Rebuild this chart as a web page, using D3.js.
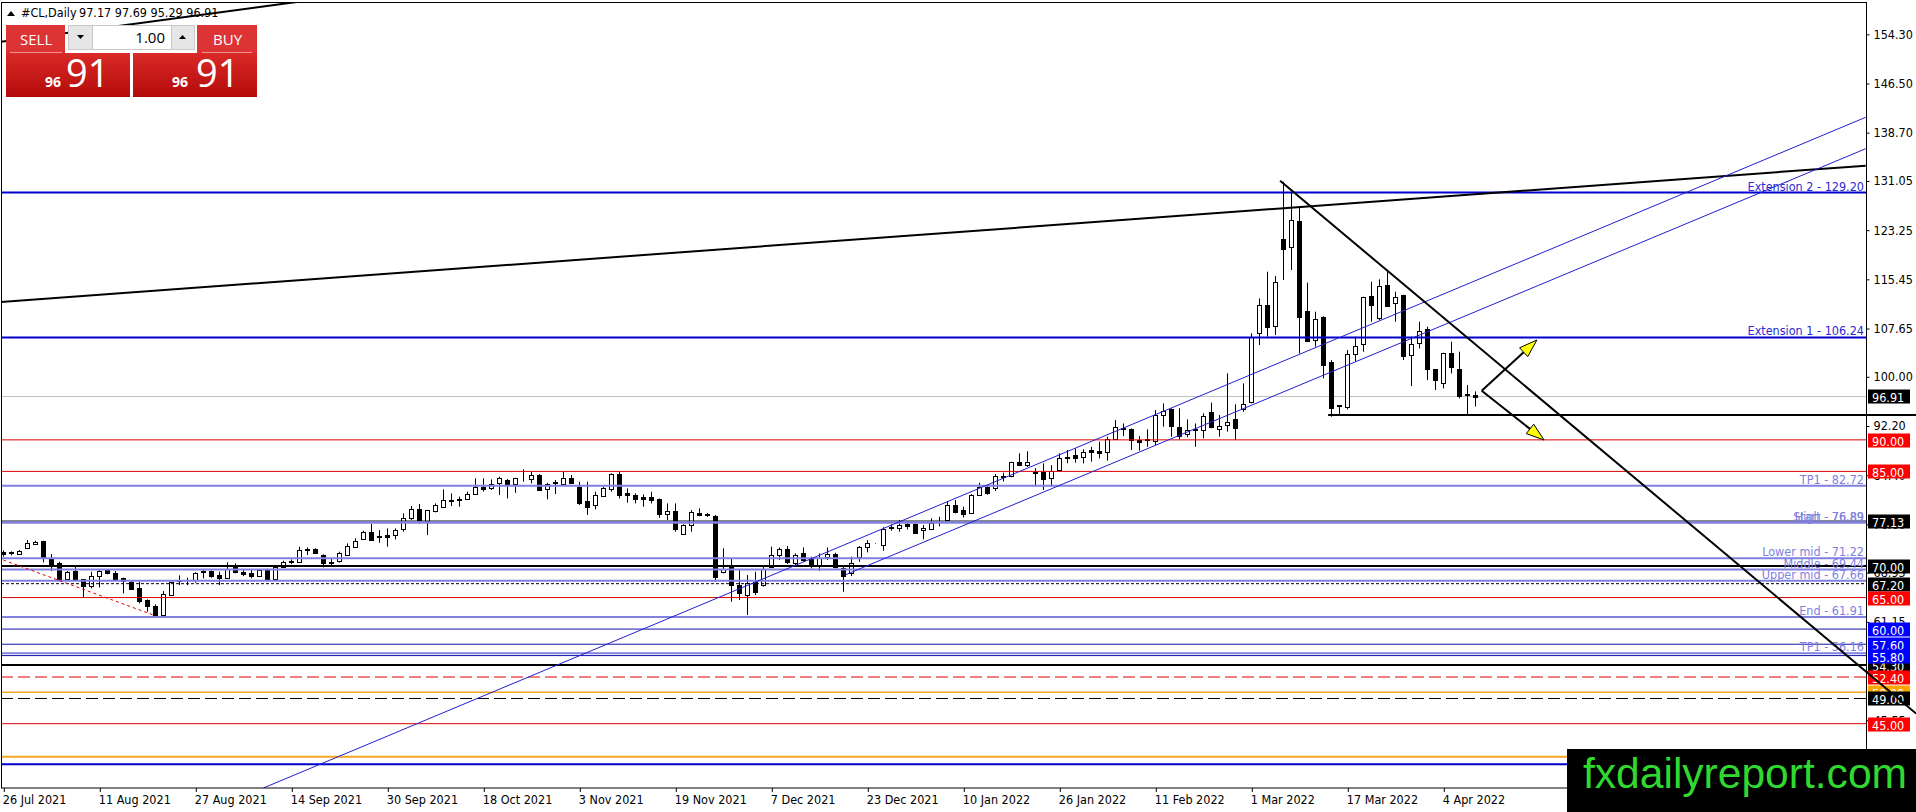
<!DOCTYPE html>
<html lang="en">
<head>
<meta charset="UTF-8">
<title>#CL,Daily</title>
<script src="https://d3js.org/d3.v7.min.js"></script>
<style>
  html, body { margin: 0; padding: 0; background: #fff; overflow: hidden; }
  svg { display: block; }
  .ax text { font: 12.5px Tahoma, "DejaVu Sans Condensed", "Liberation Sans", sans-serif; fill: #000; }
  .ax line { stroke: #000; }
  .tag text { font: 12.5px Tahoma, "DejaVu Sans Condensed", "Liberation Sans", sans-serif; fill: #fff; }
  .fib { font: 12.5px Tahoma, "DejaVu Sans Condensed", "Liberation Sans", sans-serif; }
  .panel text { font-family: "Open Sans", "Liberation Sans", Arial, sans-serif; }
</style>
</head>
<body>
<svg id="chart" width="1916" height="812"></svg>
<script>
// daily bars, 26 Jul 2021 .. 8 Apr 2022
const opens = [72.27,72.16,71.90,72.80,73.54,73.96,71.32,70.42,67.93,69.20,67.88,66.83,68.46,69.31,68.94,68.04,67.51,66.45,64.60,63.71,
  62.12,65.40,67.83,67.78,67.67,69.25,69.20,68.57,68.04,69.78,69.10,68.94,68.41,69.47,67.88,69.89,70.58,70.68,72.64,72.69,
  71.74,70.55,70.69,71.85,73.06,74.39,75.44,74.70,74.90,74.90,75.81,77.56,79.04,77.20,78.77,79.41,80.50,80.50,80.57,81.52,
  82.58,82.31,83.10,83.63,82.95,83.80,83.74,84.42,82.15,83.20,82.95,83.90,82.58,80.30,79.67,81.10,82.15,84.58,81.50,81.26,
  81.00,80.99,80.62,78.24,78.77,75.07,76.50,78.45,78.20,77.92,69.09,69.90,66.98,65.40,67.51,66.90,69.89,71.73,72.63,70.52,
  72.00,71.20,70.15,71.37,71.90,69.62,68.83,71.47,72.95,73.60,73.32,76.10,75.97,76.66,76.66,75.70,75.97,77.00,77.29,79.67,
  78.87,78.35,81.25,82.60,82.30,84.20,84.27,86.54,86.00,84.90,84.95,84.05,85.11,87.15,87.60,87.33,88.40,88.28,87.96,90.08,
  91.75,91.66,90.00,89.90,89.87,93.94,94.84,92.09,90.92,91.60,91.66,94.47,91.66,92.40,93.30,94.83,96.05,106.90,111.37,107.94,
  121.84,120.62,124.75,110.42,105.83,109.53,102.39,95.35,95.15,103.60,105.19,112.80,109.26,114.55,111.80,112.96,103.45,105.40,107.52,101.17,
  98.96,103.71,101.17,97.10,97.17];
const highs = [72.48,72.32,72.53,74.12,74.01,74.00,71.90,70.68,69.20,69.90,67.93,69.10,69.36,69.42,69.20,68.15,67.78,67.51,64.71,63.92,
  66.03,67.51,68.52,68.15,68.99,69.36,69.31,69.10,70.58,70.42,69.36,69.36,69.47,69.57,69.89,70.84,71.05,73.06,72.95,72.80,
  71.85,71.10,72.27,73.59,74.39,75.60,76.66,75.70,75.97,75.97,78.35,79.51,79.83,78.90,79.93,82.15,81.50,81.00,81.78,83.90,
  83.90,83.74,84.16,83.80,84.00,85.32,84.95,84.58,83.20,83.63,84.95,84.42,83.37,83.37,81.78,82.58,84.69,84.95,82.31,81.52,
  81.36,81.78,80.70,79.93,79.93,76.60,78.87,79.14,78.40,78.10,72.80,71.20,69.36,68.57,69.10,69.89,73.06,72.95,73.16,72.00,
  72.95,71.47,72.00,72.95,72.10,70.15,71.47,73.16,74.10,73.65,76.13,76.60,77.30,77.03,76.76,76.50,77.56,77.80,80.30,80.46,
  79.40,81.41,83.20,82.90,84.58,84.80,86.54,87.86,88.20,85.50,86.27,86.00,87.86,88.40,88.65,88.50,88.90,89.70,90.50,93.14,
  92.60,91.80,90.60,91.66,94.73,95.79,95.00,95.00,93.25,92.60,94.20,95.90,93.94,100.54,95.63,98.96,106.90,112.43,116.66,115.97,
  130.93,129.34,126.97,114.92,110.32,109.60,102.65,95.50,104.24,106.36,112.70,115.07,115.45,116.66,113.50,113.00,106.36,108.73,107.94,101.20,
  103.82,105.56,103.98,98.69,97.69];
const lows = [71.48,71.69,71.79,72.69,73.33,70.58,69.20,67.85,67.88,67.67,65.03,66.45,66.61,68.67,67.83,65.66,66.19,64.08,62.76,62.07,
  62.07,65.24,66.98,66.98,67.35,68.04,68.15,66.98,67.93,68.83,68.41,68.04,68.30,67.78,67.78,69.78,70.31,70.52,71.74,71.90,
  69.78,69.90,70.53,71.70,72.90,74.30,74.10,73.70,73.06,74.20,75.44,77.30,76.76,74.90,78.50,79.30,79.50,79.40,80.46,81.41,
  81.80,82.05,81.26,80.72,81.60,83.37,83.10,82.00,80.57,81.41,82.90,83.00,79.67,78.10,78.98,81.00,81.78,80.72,80.04,79.93,
  79.40,79.93,77.66,77.29,75.44,75.00,75.44,77.90,77.80,67.50,68.83,64.34,64.60,62.22,65.40,66.72,69.78,70.94,70.31,69.99,
  70.68,69.62,69.25,70.94,69.62,65.92,68.41,70.68,72.16,73.55,72.42,75.60,75.44,75.81,75.18,74.23,75.70,76.30,77.03,78.35,
  77.70,78.24,81.10,81.30,81.90,83.40,84.05,85.85,85.70,82.60,82.05,82.58,84.95,86.30,86.38,86.27,86.54,87.07,86.70,89.97,
  90.60,88.40,88.28,88.90,89.18,92.10,90.50,90.08,90.40,88.90,90.24,91.83,90.50,91.30,89.97,94.47,95.79,105.03,106.36,106.62,
  115.34,116.93,103.71,105.56,104.77,99.75,93.67,93.94,94.83,102.39,103.98,108.73,109.00,111.10,108.73,102.66,98.53,104.50,99.48,97.90,
  98.16,100.54,96.58,93.78,95.29];
const closes = [72.00,72.00,72.42,73.59,73.80,71.48,70.05,67.93,69.10,67.78,66.72,68.46,69.25,68.78,67.93,67.51,66.35,64.34,63.71,62.12,
  65.50,67.41,67.72,67.72,68.83,69.10,68.46,68.15,69.47,68.94,68.83,68.46,69.36,67.88,69.78,70.68,70.79,72.53,72.42,72.00,
  70.42,70.70,72.00,73.22,74.01,75.44,74.23,74.60,74.60,75.70,77.56,79.04,77.30,78.88,79.67,80.46,80.40,80.60,81.41,82.58,
  82.20,82.95,83.90,82.95,83.90,83.74,84.42,82.05,82.95,83.30,83.90,83.10,80.09,79.30,81.26,82.31,84.58,81.26,81.26,80.57,
  80.62,80.57,78.19,78.77,75.97,76.50,78.60,78.10,78.10,68.20,69.60,66.98,65.66,67.25,65.92,69.47,71.73,72.63,70.52,71.73,
  70.94,69.89,71.20,71.90,69.78,68.40,70.41,73.06,73.60,73.60,75.81,76.20,76.50,76.34,75.28,76.07,76.86,77.05,79.67,78.60,
  78.24,81.25,82.58,81.60,84.27,84.30,86.43,86.00,86.43,84.80,83.90,85.11,87.07,87.25,87.20,88.12,88.07,87.97,90.08,91.98,
  91.85,89.87,89.70,90.10,93.94,94.63,92.20,90.61,91.56,91.70,93.83,92.09,92.20,92.88,91.82,95.68,106.36,111.37,107.94,114.97,
  120.25,124.85,109.53,105.72,109.16,101.86,95.15,95.45,103.60,104.93,112.69,111.37,114.39,111.21,112.69,103.34,105.19,107.30,101.17,99.48,
  103.71,101.49,96.95,97.20,96.91];

// time axis: a label every 12 bars
const dateLabels = ["26 Jul 2021","11 Aug 2021","27 Aug 2021","14 Sep 2021","30 Sep 2021","18 Oct 2021","3 Nov 2021","19 Nov 2021",
  "7 Dec 2021","23 Dec 2021","10 Jan 2022","26 Jan 2022","11 Feb 2022","1 Mar 2022","17 Mar 2022","4 Apr 2022"];
const dateStep = 12;

// price scale ticks
const priceTicks = [154.30,146.50,138.70,131.05,123.25,115.45,107.65,100.00,92.20,84.40,76.60,68.95,61.15,53.35,45.55];

// horizontal levels
const levelPrices = [90.00,85.00,77.13,70.00,67.20,65.00,60.00,57.60,55.80,54.30,52.40,50.00,49.00,45.00,39.76,38.56];
const levelKinds  = ["red","red","blackThin","blackThick","blackDot","red","navy","navy","navy","blackThick","redDash","orange","blackDash","red","orangeThick","blueThick"];
const levelTagged = [true,true,true,true,true,true,true,true,true,true,true,true,true,true,false,false];

// fibonacci labels
const fibNames  = ["Extension 2","Extension 1","TP1","Start","High","Lower mid","Middle","Upper mid","End","TP1"];
const fibPrices = [129.20,106.24,82.72,76.89,76.89,71.22,69.44,67.66,61.91,56.16];
const fibKinds  = ["ext","ext","fib","fib","fib","fib","fib","fib","fib","fib"];

// trend lines: [bar1, price1, bar2, price2]
const trendLines = [
  [-0.41,153.10,38.30,159.70],
  [-0.41,111.85,232.80,133.47],
  [32.50,34.80,232.80,141.14],
  [105.20,68.57,232.80,136.16],
  [0,70.95,19,62.12]
];
const trendKinds = ["black","black","channel","channel","redDot"];
const downLine = [159.6,131.07,239.1,46.61];
const supportLine = [165.6,93.94,239.1,93.94];
const arrowLines = [[184.8,97.79,191.7,105.83],[184.8,97.79,192.6,89.97]];

const W = 1916, H = 812;
const plot = {left: 1, top: 2.5, right: 1866, bottom: 788};
const last = opens.length - 1;

const x = d3.scaleLinear().domain([0, 184]).range([3.3, 1475.3]);
const y = d3.scaleLinear().domain([45, 154.3]).range([723.7, 34.3]);

const svg = d3.select("#chart");
svg.append("rect").attr("width", W).attr("height", H).attr("fill", "#fff");

const defs = svg.append("defs");
defs.append("clipPath").attr("id", "plotClip").append("rect")
  .attr("x", plot.left).attr("y", plot.top)
  .attr("width", plot.right - plot.left).attr("height", plot.bottom - plot.top);
const grad = defs.append("linearGradient").attr("id", "redGrad").attr("x1", 0).attr("y1", 0).attr("x2", 0).attr("y2", 1);
grad.append("stop").attr("offset", "0%").attr("stop-color", "#d92a27");
grad.append("stop").attr("offset", "100%").attr("stop-color", "#b40b0b");

const g = svg.append("g").attr("clip-path", "url(#plotClip)");

// current price line
g.append("line").attr("x1", plot.left).attr("x2", plot.right)
  .attr("y1", Math.round(y(closes[last])) + 0.5).attr("y2", Math.round(y(closes[last])) + 0.5)
  .attr("stroke", "#c0c0c0");

// candles
const bars = d3.range(opens.length);
const cg = g.append("g");
cg.selectAll("line").data(bars).join("line")
  .attr("x1", i => Math.round(x(i)) + 0.5).attr("x2", i => Math.round(x(i)) + 0.5)
  .attr("y1", i => y(highs[i])).attr("y2", i => y(lows[i]))
  .attr("stroke", "#000");
cg.selectAll("rect").data(bars).join("rect")
  .attr("x", i => Math.round(x(i)) - 1.5)
  .attr("y", i => Math.round(y(Math.max(opens[i], closes[i]))) + 0.5)
  .attr("width", 4)
  .attr("height", i => Math.round(Math.abs(y(opens[i]) - y(closes[i]))))
  .attr("fill", i => closes[i] >= opens[i] ? "#fff" : "#000")
  .attr("stroke", "#000");

// level lines
const levelStyle = {
  red:        {stroke: "#e00000", width: 1, dash: null, tag: "#ff0000"},
  redDash:    {stroke: "#e00000", width: 1, dash: "12,5", tag: "#ff0000"},
  blackThin:  {stroke: "#000", width: 1, dash: null, tag: "#000"},
  blackThick: {stroke: "#000", width: 2, dash: null, tag: "#000"},
  blackDot:   {stroke: "#000", width: 1, dash: "3,2", tag: "#000"},
  blackDash:  {stroke: "#000", width: 1, dash: "12,5", tag: "#000"},
  navy:       {stroke: "#1414a8", width: 1, dash: null, tag: "#0000ff"},
  orange:     {stroke: "#f5a623", width: 1.5, dash: null, tag: "#ffa500"},
  orangeThick:{stroke: "#f5a623", width: 2, dash: null, tag: "#ffa500"},
  blueThick:  {stroke: "#0000cc", width: 2, dash: null, tag: "#0000ff"}
};
const fibStyle = {
  ext: {stroke: "#0000cc", text: "#2a2ad0"},
  fib: {stroke: "#8181e0", text: "#7f7fe0"}
};

g.append("g").selectAll("line").data(d3.range(levelPrices.length)).join("line")
  .attr("x1", plot.left).attr("x2", plot.right)
  .attr("y1", k => y(levelPrices[k])).attr("y2", k => y(levelPrices[k]))
  .attr("stroke", k => levelStyle[levelKinds[k]].stroke)
  .attr("stroke-width", k => levelStyle[levelKinds[k]].width)
  .attr("stroke-dasharray", k => levelStyle[levelKinds[k]].dash);

g.append("g").selectAll("line").data(d3.range(fibPrices.length)).join("line")
  .attr("x1", plot.left).attr("x2", plot.right)
  .attr("y1", k => y(fibPrices[k])).attr("y2", k => y(fibPrices[k]))
  .attr("stroke", k => fibStyle[fibKinds[k]].stroke)
  .attr("stroke-width", 2);

// trend lines
const trendStyle = {
  black:   {stroke: "#000", width: 2, dash: null},
  channel: {stroke: "#2020d0", width: 1, dash: null},
  redDot:  {stroke: "#e00000", width: 1, dash: "3,3"}
};
g.append("g").selectAll("line").data(d3.range(trendLines.length)).join("line")
  .attr("x1", k => x(trendLines[k][0])).attr("y1", k => y(trendLines[k][1]))
  .attr("x2", k => x(trendLines[k][2])).attr("y2", k => y(trendLines[k][3]))
  .attr("stroke", k => trendStyle[trendKinds[k]].stroke)
  .attr("stroke-width", k => trendStyle[trendKinds[k]].width)
  .attr("stroke-dasharray", k => trendStyle[trendKinds[k]].dash);

// fib labels
g.append("g").selectAll("text").data(d3.range(fibPrices.length)).join("text")
  .attr("class", "fib")
  .attr("x", plot.right - 2)
  .attr("y", k => y(fibPrices[k]) - 2)
  .attr("text-anchor", "end")
  .attr("fill", k => fibStyle[fibKinds[k]].text)
  .text(k => `${fibNames[k]} - ${fibPrices[k].toFixed(2)}`);

// frame
svg.append("rect").attr("x", plot.left + 0.5).attr("y", plot.top)
  .attr("width", plot.right - plot.left).attr("height", plot.bottom - plot.top)
  .attr("fill", "none").attr("stroke", "#000");

// axes
svg.append("g").attr("class", "ax").attr("transform", `translate(${plot.right + 0.5},0)`)
  .call(d3.axisRight(y).tickValues(priceTicks).tickSize(3).tickPadding(4).tickFormat(d3.format(".2f")))
  .call(a => a.select(".domain").remove());

svg.append("g").attr("class", "ax").attr("transform", `translate(0.5,${plot.bottom})`)
  .call(d3.axisBottom(x).tickValues(dateLabels.map((d, k) => k * dateStep)).tickSize(4).tickPadding(3)
    .tickFormat((d, k) => dateLabels[k]))
  .call(a => a.select(".domain").remove())
  .call(a => a.selectAll("text").attr("text-anchor", "start").attr("x", -1.5));

// price tags on the scale
const tagIdx = d3.range(levelPrices.length).filter(k => levelTagged[k])
  .sort((a, b) => (levelKinds[b] === "blackThick") - (levelKinds[a] === "blackThick") || levelPrices[b] - levelPrices[a]);
const tags = svg.append("g").attr("class", "tag");
function tag(price, fill) {
  const t = tags.append("g").attr("transform", `translate(1868,${Math.round(y(price))})`);
  t.append("rect").attr("x", 0).attr("y", -6.5).attr("width", 42).attr("height", 14).attr("fill", fill);
  t.append("text").attr("x", 4).attr("y", 1).attr("dominant-baseline", "central").text(price.toFixed(2));
}
tagIdx.forEach(k => tag(levelPrices[k], levelStyle[levelKinds[k]].tag));
tag(closes[last], "#000");

// support line and falling trend line (run over the price scale)
const over = svg.append("g");
over.append("line")
  .attr("x1", x(supportLine[0])).attr("y1", y(supportLine[1]))
  .attr("x2", x(supportLine[2])).attr("y2", y(supportLine[3]))
  .attr("stroke", "#000").attr("stroke-width", 2);
over.append("line")
  .attr("x1", x(downLine[0])).attr("y1", y(downLine[1]))
  .attr("x2", x(downLine[2])).attr("y2", y(downLine[3]))
  .attr("stroke", "#000").attr("stroke-width", 2);

// arrows with yellow heads
arrowLines.forEach(a => {
  const x1 = x(a[0]), y1 = y(a[1]), x2 = x(a[2]), y2 = y(a[3]);
  const len = Math.hypot(x2 - x1, y2 - y1), ux = (x2 - x1) / len, uy = (y2 - y1) / len;
  const bx = x2 - ux * 18, by = y2 - uy * 18;
  over.append("line").attr("x1", x1).attr("y1", y1).attr("x2", bx).attr("y2", by)
    .attr("stroke", "#000").attr("stroke-width", 2);
  over.append("polygon")
    .attr("points", [[x2, y2], [bx - uy * 6, by + ux * 6], [bx + uy * 6, by - ux * 6]].join(" "))
    .attr("fill", "#ffff00").attr("stroke", "#000").attr("stroke-width", 1);
});

// watermark
svg.append("rect").attr("x", 1567).attr("y", 749).attr("width", 349).attr("height", 63).attr("fill", "#000");
svg.append("text").attr("x", 1583).attr("y", 788)
  .attr("font-family", "'Liberation Sans', Arial, sans-serif").attr("font-size", 42)
  .attr("textLength", 324).attr("lengthAdjust", "spacingAndGlyphs")
  .attr("fill", "#30d830").text("fxdailyreport.com");

// title
const title = svg.append("g").attr("class", "ax");
title.append("polygon").attr("points", "7,16 15,16 11,11").attr("fill", "#000");
title.append("text").attr("x", 21).attr("y", 17).text("#CL,Daily");
title.append("text").attr("x", 79).attr("y", 17)
  .text([opens[last], highs[last], lows[last], closes[last]].map(v => v.toFixed(2)).join(" "));

// one-click trading panel
const panel = svg.append("g").attr("class", "panel");
panel.append("rect").attr("x", 6).attr("y", 25).attr("width", 59).attr("height", 28).attr("fill", "#dc3434");
panel.append("rect").attr("x", 197).attr("y", 25).attr("width", 60).attr("height", 28).attr("fill", "#dc3434");
panel.append("rect").attr("x", 6).attr("y", 53).attr("width", 124).attr("height", 44).attr("fill", "url(#redGrad)");
panel.append("rect").attr("x", 133).attr("y", 53).attr("width", 124).attr("height", 44).attr("fill", "url(#redGrad)");
panel.append("line").attr("x1", 10).attr("x2", 62).attr("y1", 52.5).attr("y2", 52.5).attr("stroke", "#f09090");
panel.append("line").attr("x1", 202).attr("x2", 252).attr("y1", 52.5).attr("y2", 52.5).attr("stroke", "#f09090");
panel.append("rect").attr("x", 68.5).attr("y", 25.5).attr("width", 126).attr("height", 24).attr("fill", "#fff").attr("stroke", "#c8c8c8");
panel.append("rect").attr("x", 68.5).attr("y", 25.5).attr("width", 24).attr("height", 24).attr("fill", "#e6e6e6").attr("stroke", "#c8c8c8");
panel.append("rect").attr("x", 171.5).attr("y", 25.5).attr("width", 23).attr("height", 24).attr("fill", "#e6e6e6").attr("stroke", "#c8c8c8");
panel.append("polygon").attr("points", "77,35 84,35 80.5,39").attr("fill", "#000");
panel.append("polygon").attr("points", "179,39 186,39 182.5,35").attr("fill", "#000");
panel.append("text").attr("x", 165).attr("y", 43).attr("text-anchor", "end").attr("font-size", 15).attr("fill", "#000").text("1.00");
panel.append("text").attr("x", 20).attr("y", 45).attr("font-size", 15).attr("fill", "#fff").text("SELL");
panel.append("text").attr("x", 213).attr("y", 45).attr("font-size", 15).attr("fill", "#fff").text("BUY");
const priceStr = closes[last].toFixed(2).split(".");
[[45, 66], [172, 196]].forEach(p => {
  panel.append("text").attr("x", p[0]).attr("y", 86.5).attr("font-size", 14).attr("font-weight", "bold").attr("fill", "#fff").text(priceStr[0]);
  panel.append("text").attr("x", p[1]).attr("y", 86.5).attr("font-size", 38).attr("fill", "#fff").text(priceStr[1]);
});
</script>
</body>
</html>
